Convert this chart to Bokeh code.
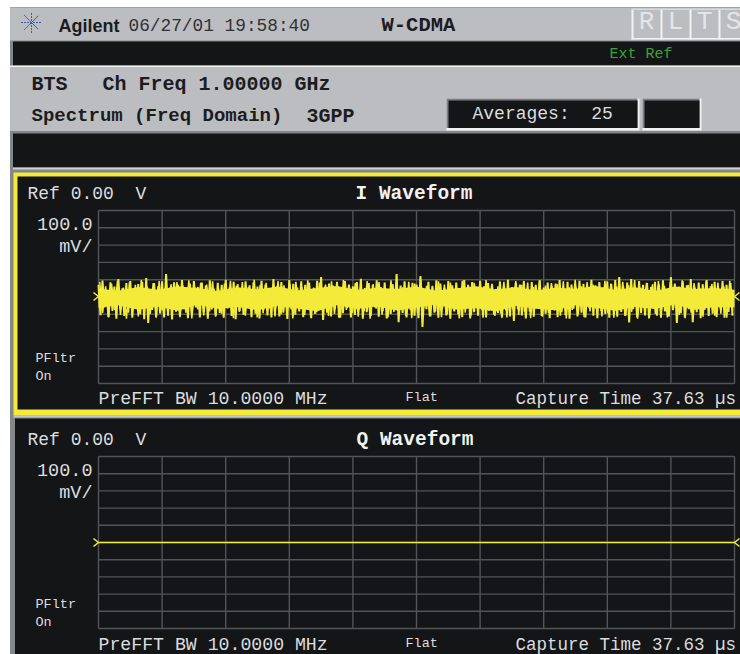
from bokeh.plotting import figure
from bokeh.embed import file_html
from bokeh.resources import INLINE
from bokeh.models import Range1d
from bokeh.core.properties import value

# ---- data ----
CAPTURE_US = 37.63
FULL_SCALE_MV = 500
time_divisions_us = [i * CAPTURE_US / 10 for i in range(11)]
volt_divisions_mv = [500, 400, 300, 200, 100, 0, -100, -200, -300, -400, -500]

# I waveform: successive excursions above and below zero (mV)
i_upper_mv = [
    70, 95, 40, 85, 60, 104, 50, 80, 92, 35,
    75, 88, 110, 45, 80, 62, 90, 133, 55, 85,
    70, 98, 40, 78, 92, 58, 84, 66, 96, 48,
    82, 70, 100, 55, 88, 74, 38, 90, 68, 85,
    60, 93, 72, 50, 104, 64, 86, 42, 98, 76,
    55, 90, 70, 84, 48, 94, 115, 60, 78, 66,
    88, 44, 92, 72, 62, 86, 105, 52, 80, 70,
    96, 58, 84, 40, 74, 133, 66, 90, 50, 82,
    72, 121, 45, 88, 64, 96, 78, 52, 92, 68,
    84, 40, 98, 70, 86, 56, 94, 62, 80, 74,
    46, 90, 66, 100, 58, 82, 72, 92, 38, 86,
    70, 96, 54, 84, 64, 78, 98, 48, 88, 72,
    60, 94, 76, 42, 100, 68, 86, 56, 90, 74,
    98, 115, 62, 84, 104, 50, 92, 70, 80, 58,
    88, 72, 96, 46, 115, 78, 60, 90, 68, 104,
    55, 84, 74, 98, 62, 88, 44, 92, 70, 80,
]
i_lower_mv = [
    -105, -60, -115, -80, -125, -70, -110, -90, -120, -55,
    -100, -128, -150, -75, -115, -95, -118, -65, -130, -85,
    -112, -70, -122, -95, -60, -118, -88, -126, -72, -108,
    -92, -120, -66, -110, -128, -80, -104, -58, -116, -96,
    -124, -74, -106, -118, -62, -112, -90, -127, -70, -102,
    -84, -116, -60, -122, -98, -76, -133, -90, -112, -68,
    -120, -94, -64, -118, -104, -72, -126, -88, -110, -60,
    -114, -82, -124, -98, -66, -145, -92, -118, -74, -108,
    -122, -173, -70, -112, -90, -120, -62, -106, -126, -84,
    -100, -116, -68, -124, -88, -108, -74, -118, -60, -102,
    -92, -120, -76, -112, -138, -70, -106, -124, -84, -114,
    -62, -110, -96, -122, -72, -116, -88, -104, -126, -68,
    -112, -90, -118, -64, -108, -122, -80, -98, -120, -74,
    -114, -86, -110, -147, -70, -118, -92, -106, -124, -66,
    -108, -120, -84, -112, -76, -150, -94, -118, -70, -145,
    -88, -122, -74, -110, -96, -116, -64, -120, -86, -108,
]
# second pass over the same capture: irregular in-between excursions (mV)
i_fill_upper_mv = [
    88, 62, 76, 94, 54, 84, 70, 98, 60, 80, 92, 50, 74, 86, 66, 96, 58, 82, 72, 90,
    48, 78, 94, 64, 86, 56, 100, 70, 82, 52, 92, 68, 76, 88, 60, 96, 54, 84, 72, 90,
    66, 98, 58, 80, 50, 92, 74, 86, 62, 96, 70, 56, 88, 78, 100, 64, 52, 90, 72, 84,
    60, 94, 68, 82, 54, 98, 76, 62, 88, 50, 92, 70, 84, 58, 96, 66, 80, 74, 90, 56,
    100, 62, 86, 72, 52, 94, 78, 60, 88, 68, 98, 54, 82, 74, 92, 64, 86, 58, 96, 70,
    80, 50, 90, 76, 84, 62, 94,
]
i_fill_lower_mv = [
    -92, -118, -74, -104, -126, -82, -112, -68, -98, -120, -78, -110, -64, -116, -90, -124,
    -72, -106, -84, -114, -96, -62, -122, -86, -108, -76, -118, -94, -66, -112, -100, -80,
    -124, -70, -104, -116, -88, -60, -110, -98, -120, -74, -92, -114, -82, -126, -68, -102,
    -118, -86, -76, -108, -122, -94, -64, -112, -84, -116, -100, -72, -124, -90, -106, -66,
    -120, -80, -110, -96, -118, -70, -104, -88, -122, -62, -114, -92, -78, -108, -124, -74,
    -100, -116, -84, -68, -112, -94, -120, -76, -106, -86, -126, -64, -110, -98, -80, -118,
    -72, -104, -122, -90, -66, -114, -82, -108, -96, -120, -78,
]
# solid core of the I trace, one pair every 5 excursions (mV)
i_core_upper_mv = [48, 36, 58, 42, 62, 50, 34, 56, 44, 60, 38, 52, 64, 40, 54, 46, 60, 36, 50, 62, 44,
                   58, 38, 54, 48, 64, 40, 56, 34, 60, 46, 52, 42]
i_core_lower_mv = [-62, -48, -74, -56, -80, -44, -68, -58, -76, -50, -66, -82, -46, -70, -54, -78, -60,
                   -42, -72, -64, -84, -50, -68, -76, -48, -62, -80, -56, -70, -44, -74, -58, -60]
# Q waveform is flat on the reference level
q_time_us = [0, CAPTURE_US]
q_volts_mv = [0, 0]

DARK_TEXT = "#1b1c1e"
LIGHT_TEXT = "#dcdddf"
YELLOW = "#f3ea3a"
PANEL = "#131517"
GRAY = "#bcbdc0"
EDGE = "#84878a"
GRID = "#4f5558"

X0, X1, Y0, Y1 = 0, 740, 0, 654

p = figure(width=X1 - X0, height=Y1 - Y0, output_backend="svg", toolbar_location=None,
           x_range=Range1d(X0, X1), y_range=Range1d(Y1, Y0),
           x_axis_type=None, y_axis_type=None, min_border=0,
           border_fill_color="white", background_fill_color="white",
           outline_line_color=None)
p.grid.visible = False


def value_at(px, px0, px1, v0, v1):
    return v0 + (px - px0) * (v1 - v0) / (px1 - px0)


p.extra_x_ranges["time"] = Range1d(value_at(X0, 98, 734, 0, CAPTURE_US), value_at(X1, 98, 734, 0, CAPTURE_US))
p.extra_y_ranges["i_mv"] = Range1d(value_at(Y1, 210, 383, FULL_SCALE_MV, -FULL_SCALE_MV),
                                   value_at(Y0, 210, 383, FULL_SCALE_MV, -FULL_SCALE_MV))
p.extra_y_ranges["q_mv"] = Range1d(value_at(Y1, 456, 628, FULL_SCALE_MV, -FULL_SCALE_MV),
                                   value_at(Y0, 456, 628, FULL_SCALE_MV, -FULL_SCALE_MV))


def box(l, r, t, b, color):
    p.quad(left=[l], right=[r], top=[t], bottom=[b], fill_color=color, line_color=None)


def txt(x, y, s, size, color=LIGHT_TEXT, font="Liberation Mono", style="normal", align="left"):
    p.text(x=[x], y=[y - 0.36 * size], text=[s], text_font=value(font), text_font_size=f"{size}px",
           text_font_style=style, text_color=color, text_align=align,
           text_baseline="alphabetic")


R = X1
B = Y1
# chrome
box(9.5, R, 6.5, B, EDGE)
box(9.5, R, 7, 40, GRAY)
box(12.5, R, 41, 65, PANEL)
box(9.5, R, 65, 66.5, "#f0f0f1")
box(9.5, R, 66.5, 130.5, GRAY)
box(12.5, R, 133, 167, PANEL)
box(12.5, R, 167, 169, "#d0d1d3")
box(13, R, 172, 415, YELLOW)
box(17, R, 176, 409, PANEL)
box(13, R, 415, 417, "#c4c5c7")
box(14.5, R, 418, B, PANEL)

# header texts
p.scatter(x=[31], y=[22], size=21, marker="asterisk", line_color="#3f5ab5", line_width=1, line_dash="2 1")
p.scatter(x=[31], y=[22], size=17, marker="x", line_color="#3f5ab5", line_width=1, line_dash="2 1")
txt(58, 32, "Agilent", 18, DARK_TEXT, "Liberation Sans", "bold")
txt(128, 32, "06/27/01 19:58:40", 17.8, "#303134")
txt(381, 32, "W-CDMA", 20.5, DARK_TEXT, "Liberation Mono", "bold")
txt(609, 59, "Ext Ref", 15, "#3da336")
txt(31, 91, "BTS", 20, DARK_TEXT, "Liberation Mono", "bold")
txt(102, 91, "Ch Freq 1.00000 GHz", 20, DARK_TEXT, "Liberation Mono", "bold")
txt(31, 122, "Spectrum (Freq Domain)", 19, DARK_TEXT, "Liberation Mono", "bold")
txt(306, 123, "3GPP", 20, DARK_TEXT, "Liberation Mono", "bold")

# R L T S keys
for x0, letter in zip([631, 660, 689, 718], "RLTS"):
    box(x0, x0 + 2, 9, 39, "#f2f2f3")
    box(x0, x0 + 29, 8, 9.5, "#d8d9da")
    txt(x0 + 15, 31, letter, 26, "#e4e5e6", align="center")
box(631, R, 37.5, 39, "#f2f2f3")

# averages box
box(446, 639, 98, 130, "#f2f2f3")
box(446, 637, 98, 127.5, "#7d8083")
box(448, 637, 100, 127.5, PANEL)
box(642, 701, 98, 130, "#f2f2f3")
box(642, 699, 98, 127.5, "#7d8083")
box(644, 699, 100, 127.5, PANEL)
txt(472, 120, "Averages:\u00a0\u00a025", 18)


def panel(y_name, top_px, title, title_x):
    p.segment(x0=time_divisions_us, x1=time_divisions_us,
              y0=[FULL_SCALE_MV] * 11, y1=[-FULL_SCALE_MV] * 11,
              x_range_name="time", y_range_name=y_name, line_color=GRID, line_width=1.4)
    p.segment(x0=[0] * 11, x1=[CAPTURE_US] * 11,
              y0=volt_divisions_mv, y1=volt_divisions_mv,
              x_range_name="time", y_range_name=y_name, line_color=GRID, line_width=1.4)
    t = top_px
    txt(27, t + 28, "Ref 0.00\u00a0\u00a0V", 18)
    txt(title_x, t + 29, title, 19.5, "#f2f2f2", "Liberation Mono", "bold")
    txt(92, t + 58, "100.0", 18.5, align="right")
    txt(92, t + 82, "mV/", 18.5, align="right")
    txt(35, t + 191, "PFltr", 13.5)
    txt(35, t + 209, "On", 13.5)
    txt(98, t + 233, "PreFFT BW 10.0000 MHz", 18.2)
    txt(405, t + 230, "Flat", 13.5)
    txt(515, t + 233, "Capture Time 37.63 \u00b5s", 17.5)


panel("i_mv", 172, "I Waveform", 355)
panel("q_mv", 418, "Q Waveform", 356)


def zigzag(ups, lows, phase):
    ts, vs = [], []
    m = len(ups)
    for k, (up, lo) in enumerate(zip(ups, lows)):
        ts += [(k + phase) * CAPTURE_US / m, (k + phase + 0.5) * CAPTURE_US / m]
        vs += [up, lo]
    return ts, vs


# I trace: excursions around a solid core
i_t, i_v = zigzag(i_upper_mv, i_lower_mv, 0)
f_t, f_v = zigzag(i_fill_upper_mv, i_fill_lower_mv, 0.2)
core_t = [k * CAPTURE_US / (len(i_core_upper_mv) - 1) for k in range(len(i_core_upper_mv))]
p.varea(x=core_t, y1=i_core_upper_mv, y2=i_core_lower_mv, x_range_name="time", y_range_name="i_mv", fill_color=YELLOW)
p.line(f_t, f_v, x_range_name="time", y_range_name="i_mv", line_color=YELLOW, line_width=1.5, line_join="bevel")
p.line(i_t, i_v, x_range_name="time", y_range_name="i_mv", line_color=YELLOW, line_width=2, line_join="bevel")
p.line(q_time_us, q_volts_mv, x_range_name="time", y_range_name="q_mv", line_color=YELLOW, line_width=1.5)

# reference chevrons on both sides of each panel
p.multi_line(xs=[[93, 98, 93], [739, 734, 739], [93, 98, 93], [739, 734, 739]],
             ys=[[292, 296, 300], [292, 296, 300], [538, 542, 546], [538, 542, 546]],
             line_color=YELLOW, line_width=1.6)

open("out.html", "w").write(file_html(p, INLINE))
